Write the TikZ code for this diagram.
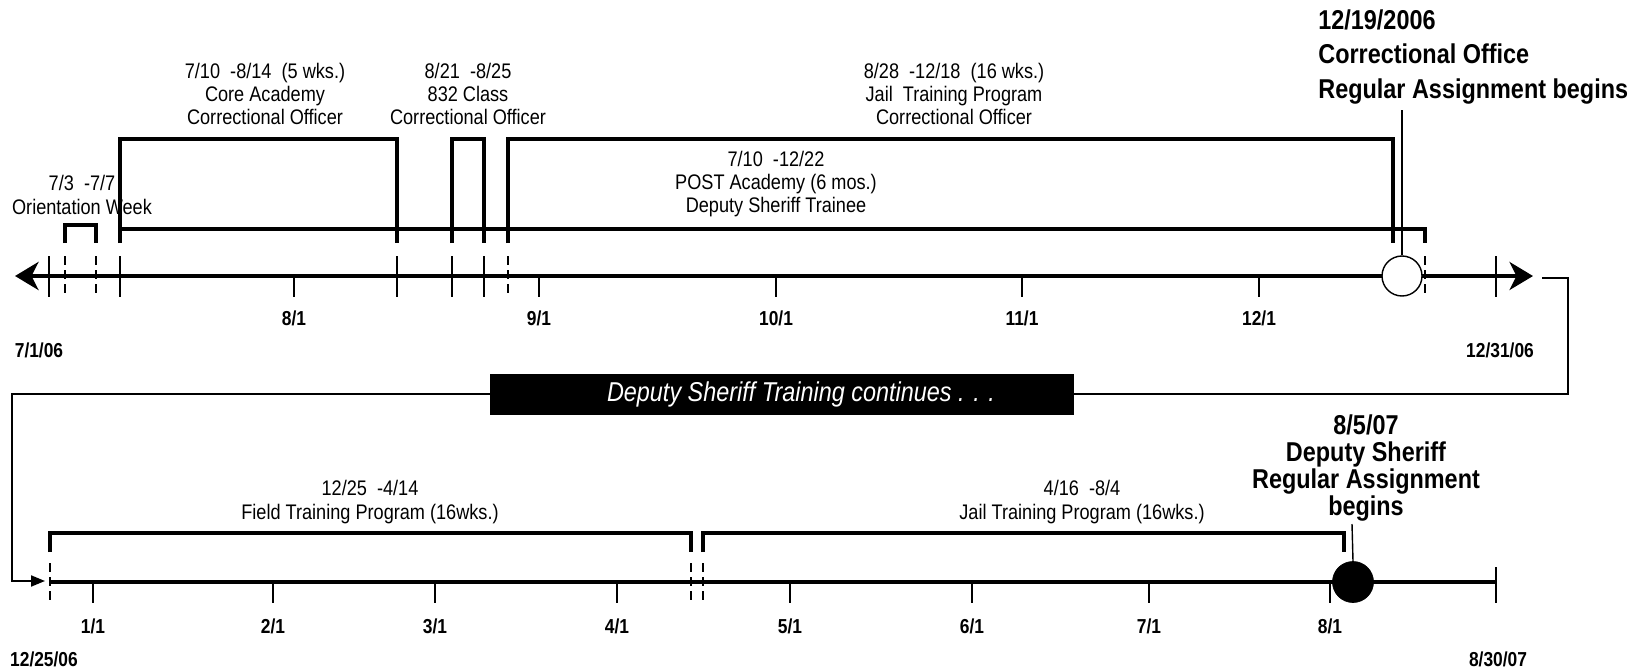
\documentclass[tikz,border=0pt]{standalone}
\usepackage{fontspec}
\setmainfont{Liberation Sans}[FakeStretch=0.86]
\usepackage{tikz}
\usetikzlibrary{arrows.meta}

\tikzset{
  lbl/.style={font=\fontsize{12}{13.3}\selectfont, align=center, inner sep=0pt},
  datelbl/.style={font=\bfseries\fontsize{11.5}{13}\selectfont, inner sep=0pt},
  bigbold/.style={font=\bfseries\fontsize{15.5}{19.5}\selectfont, inner sep=0pt},
  axisline/.style={line width=2.2pt},
  bracket/.style={line width=2.6pt},
  tickline/.style={line width=0.8pt},
  dtick/.style={line width=0.8pt, dash pattern=on 5pt off 3pt},
  conn/.style={line width=1.1pt}
}

\begin{document}
\begin{tikzpicture}[x=0.2mm, y=-0.2mm]
\useasboundingbox (0,0) rectangle (1643,669);

% --- 2006 line ---
\foreach \x in {49,120,397,452,484,1496} \draw[tickline] (\x,256) -- (\x,297);
\foreach \x in {65,96,508,1425} \draw[dtick] (\x,256) -- (\x,297);
\foreach \x/\m in {294/8,539/9,776/10,1022/11,1259/12} {
  \draw[tickline] (\x,276) -- (\x,297);
  \node[datelbl] (top\m) at (\x,318) {\m/1};
}
\draw[axisline, {Stealth[length=0.47cm,width=0.56cm,inset=0.14cm]}-{Stealth[length=0.47cm,width=0.56cm,inset=0.14cm]}]
  (15,276) -- (1533,276);

\draw[bracket] (65,243) -- (65,225) -- (96,225) -- (96,243);
\draw[bracket] (120,243) -- (120,139) -- (397,139) -- (397,243);
\draw[bracket] (452,243) -- (452,139) -- (484,139) -- (484,243);
\draw[bracket] (508,243) -- (508,139) -- (1393,139) -- (1393,243);
\draw[bracket] (120,229) -- (1425,229) -- (1425,243);

\node[circle, draw, fill=white, line width=0.8pt, minimum size=0.8cm, inner sep=0pt] (corr) at (1402,276) {};
\draw[tickline] (corr.north) -- (1402,110);

\node[lbl] (orient) at (82,195) {7/3\ \ -7/7\\Orientation Week};
\node[lbl] (core) at (265,94) {7/10\ \ -8/14\ \ (5 wks.)\\Core Academy\\Correctional Officer};
\node[lbl] (class) at (468,94) {8/21\ \ -8/25\\832 Class\\Correctional Officer};
\node[lbl] (jail) at (954,94) {8/28\ \ -12/18\ \ (16 wks.)\\Jail\ \ Training Program\\Correctional Officer};
\node[lbl] (post) at (776,184) {7/10\ \ -12/22\\POST Academy (6 mos.)\\Deputy Sheriff Trainee};
\node[bigbold, align=left, anchor=west] (corrlbl) at (1318,57) {12/19/2006\\Correctional Office\\Regular Assignment begins};

\node[datelbl] (start06) at (39,350) {7/1/06};
\node[datelbl] (end06) at (1500,350) {12/31/06};

% --- continuation ---
\coordinate (topend) at (1542,278);
\coordinate (turnR) at (1568,394);
\coordinate (turnL) at (12,394);
\coordinate (botstart) at (45,581);
\draw[conn, -{Triangle[length=0.28cm,width=0.22cm]}] (topend) -| (turnR) -- (turnL) |- (botstart);
\node[fill=black, text=white, minimum width=11.68cm, minimum height=0.82cm, inner sep=0pt,
      font=\itshape\fontsize{15.5}{17}\selectfont] (cont) at (782,394)
  {\hspace*{0.76cm}Deputy Sheriff Training continues . . .};

% --- 2007 line ---
\foreach \x in {50,691,703} \draw[dtick] (\x,563) -- (\x,605);
\draw[tickline] (1496,567) -- (1496,603);
\foreach \x/\m in {93/1,273/2,435/3,617/4,790/5,972/6,1149/7,1330/8} {
  \draw[tickline] (\x,582) -- (\x,603);
  \node[datelbl] (bot\m) at (\x,626) {\m/1};
}
\draw[axisline] (50,582) -- (1496,582);

\draw[bracket] (50,552) -- (50,533) -- (691,533) -- (691,552);
\draw[bracket] (703,552) -- (703,533) -- (1344,533) -- (1344,552);

\node[circle, draw, fill=black, minimum size=0.82cm, inner sep=0pt] (dep) at (1353,582) {};
\draw[tickline] (dep.north) -- (1352,524);

\node[lbl] (field) at (370,502) {12/25\ \ -4/14\\Field Training Program (16wks.)};
\node[lbl] (jail2) at (1082,502) {4/16\ \ -8/4\\Jail Training Program (16wks.)};
\node[bigbold, align=center, font=\bfseries\fontsize{15.5}{15.5}\selectfont] (deplbl) at (1366,468)
  {8/5/07\\Deputy Sheriff\\Regular Assignment\\begins};

\node[datelbl] (start07) at (44,659) {12/25/06};
\node[datelbl] (end07) at (1498,659) {8/30/07};
\end{tikzpicture}
\end{document}
